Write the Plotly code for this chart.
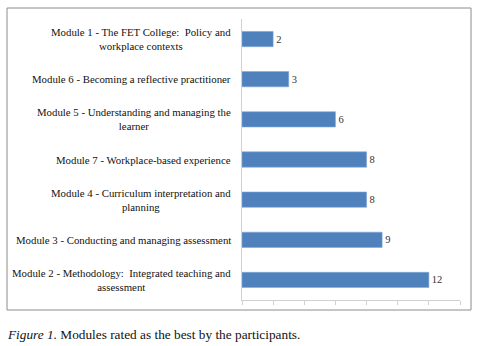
import plotly.graph_objects as go

# Modules, listed bottom-to-top as drawn on the category axis
modules = [
    "Module 2 - Methodology:  Integrated teaching and<br>assessment",
    "Module 3 - Conducting and managing assessment",
    "Module 4 - Curriculum interpretation and<br>planning",
    "Module 7 - Workplace-based experience",
    "Module 5 - Understanding and managing the<br>learner",
    "Module 6 - Becoming a reflective practitioner",
    "Module 1 - The FET College:  Policy and<br>workplace contexts",
]
votes = [12, 9, 8, 8, 6, 3, 2]
x_ticks = [0, 2, 4, 6, 8, 10, 12, 14]

SERIF = "Liberation Serif"
BAR = "#4F81BD"
W, H = 481, 346
L, R, T, B = 242, 21, 19, 46

fig = go.Figure(
    go.Bar(
        x=votes,
        y=modules,
        orientation="h",
        marker=dict(color=BAR, line=dict(color="#7FA6D6", width=0.6)),
        width=0.38,
        text=[str(v) for v in votes],
        textposition="outside",
        textfont=dict(family=SERIF, size=10.5, color="#333333"),
        cliponaxis=False,
        hoverinfo="x+y",
    )
)

# Category labels as annotations so multi-line labels are centred line by line
for name in modules:
    fig.add_annotation(
        x=0, xref="paper", xshift=-9,
        y=name, yref="y",
        text=name, showarrow=False,
        xanchor="right", yanchor="middle", align="center",
        font=dict(family=SERIF, size=10.8, color="#111111"),
    )

pw = W - L - R
ph = H - T - B

def px_x(p):
    return (p - L) / pw

def px_y(p):
    return (H - B - p) / ph

# Chart-area frame around plot and labels
fig.add_shape(
    type="rect", xref="paper", yref="paper",
    x0=px_x(7), x1=px_x(471), y0=px_y(310), y1=px_y(8),
    line=dict(color="#8C8C8C", width=1), fillcolor="rgba(0,0,0,0)",
)

# Figure caption below the frame
fig.add_annotation(
    x=px_x(5), xref="paper", y=px_y(334), yref="paper",
    text="<i>Figure 1.</i> Modules rated as the best by the participants.",
    showarrow=False, xanchor="left", yanchor="middle",
    font=dict(family=SERIF, size=13.3, color="#111111"),
)

fig.update_layout(
    width=W, height=H,
    margin=dict(l=L, r=R, t=T, b=B),
    paper_bgcolor="white", plot_bgcolor="white",
    showlegend=False,
    xaxis=dict(
        range=[0, 14], tickvals=x_ticks, showticklabels=False,
        showgrid=False, zeroline=False,
        showline=True, linecolor="#D0D0D0", linewidth=1,
        ticks="outside", ticklen=4, tickcolor="#D0D0D0",
    ),
    yaxis=dict(
        categoryorder="array", categoryarray=modules,
        range=[-0.5, len(modules) - 0.5],
        showticklabels=False, showgrid=False, zeroline=False,
        showline=True, linecolor="#D0D0D0", linewidth=1, ticks="",
    ),
)

fig.write_html("out.html")
